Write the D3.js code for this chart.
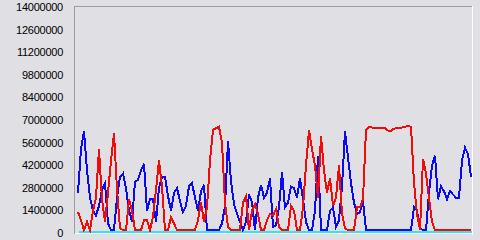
<!DOCTYPE html>
<html><head><meta charset="utf-8">
<script src="https://cdn.jsdelivr.net/npm/d3@7"></script>
<style>
html,body{margin:0;padding:0;background:#e0dfe4;}
svg{display:block;}
</style></head>
<body>
<svg id="chart" width="480" height="240"></svg>
<script>
// Y tick labels
const yTicks = [0,1400000,2800000,4200000,5600000,7000000,8400000,9800000,11200000,12600000,14000000];
// Blue series (millions), one point per sample
const blueValues = [
 2.3,5.0,6.1,3.7,2.0,1.2,0.9,1.5,2.5,2.9,0.4,0,0,2.0,3.3,3.5,2.6,1.2,0.5,3.0,
 3.1,3.7,4.1,1.2,1.9,1.9,0.5,2.6,3.3,3.3,2.1,1.2,2.3,2.6,1.8,1.1,1.5,2.7,2.9,2.0,
 1.2,2.4,2.8,0,0,0,0,0,0.4,1.5,5.5,3.0,1.6,1.0,0.5,0,0.5,2.2,1.7,0,
 2.0,2.8,2.0,2.3,3.2,0.2,0.3,1.4,3.6,1.4,1.7,2.7,2.6,2.0,3.2,1.9,0.5,0,0,1.2,
 4.6,0,0,0,1.2,1.4,0.2,0.6,2.7,6.1,4.5,2.9,1.7,1.0,1.1,1.8,0,0,0,0,
 0,0,0,0,0,0,0,0,0,0,0,0,1.4,1.2,0.1,0,0,2.3,4.0,4.6,
 1.9,2.7,2.4,1.9,2.4,2.2,2.0,2.0,4.3,5.1,4.7,3.3
];
// Red series (millions)
const redValues = [
 1.1,0.6,0,0.5,0,1.2,2.0,5.0,1.9,0.5,2.3,4.3,6.0,2.5,0.1,0,0,1.9,1.2,0,
 0,0,0.6,0.6,0,0.8,2.5,4.3,2.7,0,0,0.8,0.4,0,0,0,0,0,0,0,
 0.6,1.7,0.5,1.4,4.3,6.2,6.3,6.4,5.4,1.7,0.2,0,0,0,0,1.7,2.1,0,1.2,1.6,
 1.0,0,0,0.6,1.0,0.9,1.3,0.2,0,0,0,1.5,1.2,0,0,1.4,4.0,6.2,5.0,4.0,
 2.0,5.8,3.7,2.3,3.2,1.5,2.0,4.0,1.0,0.1,0,0,0,1.4,1.4,1.9,6.2,6.4,6.35,6.3,
 6.35,6.3,6.35,6.2,6.1,6.25,6.3,6.3,6.35,6.4,6.45,6.4,2.9,1.0,0,4.4,3.5,2.0,0.5,0,
 0,0,0,0,0,0,0,0,0,0,0,0
];
const seriesList = [
  {name:"blue", values: blueValues, color:"#0a0af5"},
  {name:"red", values: redValues, color:"#f50a0a"}
];

const svg = d3.select("#chart");
const N = blueValues.length;
const x = d3.scaleLinear().domain([0, N-1]).range([78, 471]);
const y = d3.scaleLinear().domain([0, 14000000]).range([230, 4]);

// frame
svg.append("rect").attr("x",0).attr("y",0).attr("width",480).attr("height",240).attr("fill","#e0dfe4");
svg.append("line").attr("x1",74.5).attr("x2",74.5).attr("y1",6).attr("y2",234).attr("stroke","#9c9ca4").attr("stroke-width",1);
svg.append("line").attr("x1",74).attr("x2",472).attr("y1",6.5).attr("y2",6.5).attr("stroke","#9c9ca4").attr("stroke-width",1);
svg.append("line").attr("x1",472.5).attr("x2",472.5).attr("y1",6).attr("y2",235).attr("stroke","#ffffff").attr("stroke-width",1);
svg.append("line").attr("x1",75).attr("x2",473).attr("y1",233.5).attr("y2",233.5).attr("stroke","#ffffff").attr("stroke-width",1);
// baseline
svg.append("line").attr("x1",x(0)+1).attr("x2",472).attr("y1",y(0)+2).attr("y2",y(0)+2)
  .attr("stroke","#30e4f0").attr("stroke-width",2).attr("shape-rendering","crispEdges");

// y labels
svg.append("g").selectAll("text").data(yTicks).join("text")
  .attr("x",63).attr("y",d=>y(d)+7)
  .attr("text-anchor","end")
  .attr("font-family","Liberation Sans, Arial, sans-serif")
  .attr("font-size","11px").attr("letter-spacing","-0.25")
  .attr("fill","#000")
  .text(d=>String(d));

const line = d3.line().x((d,i)=>x(i)).y(d=>y(d*1000000));
svg.append("g").selectAll("path").data(seriesList).join("path")
  .attr("d", s=>line(s.values))
  .attr("fill","none")
  .attr("stroke", s=>s.color)
  .attr("stroke-width",2)
  .attr("stroke-linejoin","miter")
  .attr("shape-rendering","crispEdges");
</script>
</body></html>
